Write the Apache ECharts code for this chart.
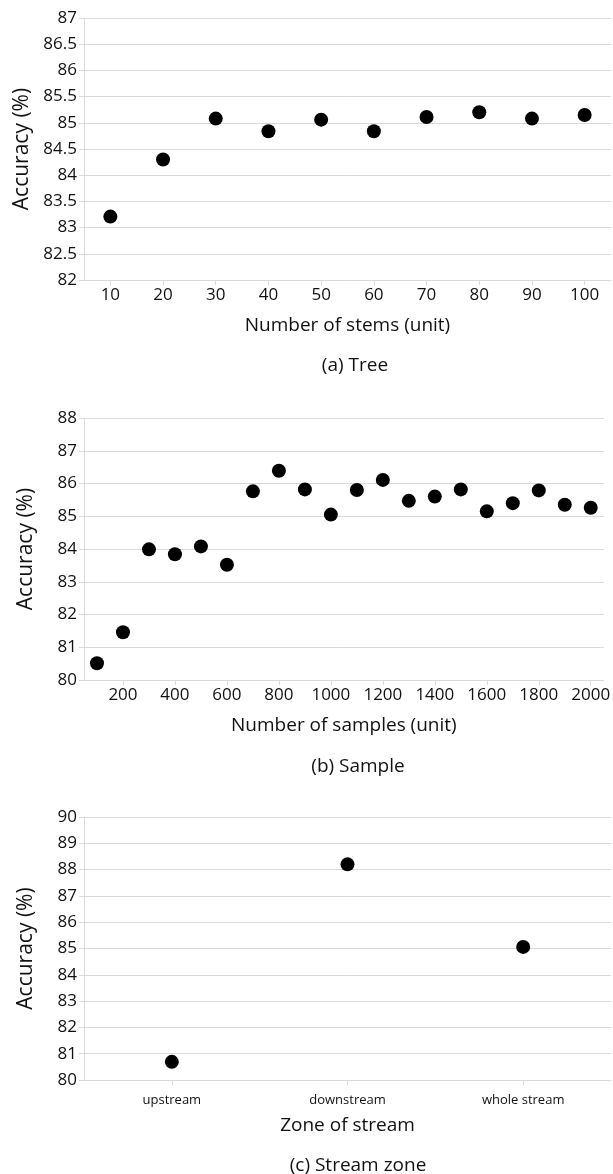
<!DOCTYPE html>
<html>
<head>
<meta charset="utf-8">
<script src="https://cdn.jsdelivr.net/npm/echarts@6/dist/echarts.min.js"></script>
<style>
html,body{margin:0;padding:0;background:#fff;}
#chart{width:613px;height:1174px;}
</style>
</head>
<body>
<div id="chart"></div>
<script>
// Panel (a) Tree
const stemsCategories = ['10','20','30','40','50','60','70','80','90','100'];
const stemsAccuracy = [83.21, 84.30, 85.08, 84.84, 85.06, 84.84, 85.11, 85.20, 85.08, 85.15];
// Panel (b) Sample
const samplesCategories = ['100','200','300','400','500','600','700','800','900','1000','1100','1200','1300','1400','1500','1600','1700','1800','1900','2000'];
const samplesAccuracy = [80.51, 81.46, 83.99, 83.84, 84.08, 83.52, 85.76, 86.39, 85.82, 85.05, 85.80, 86.11, 85.47, 85.60, 85.82, 85.15, 85.40, 85.79, 85.35, 85.26];
// Panel (c) Stream zone
const zoneCategories = ['upstream','downstream','whole stream'];
const zoneAccuracy = [80.69, 88.20, 85.06];

const FONT = 'Open Sans';
const axisColor = '#d9d9d9';
const textColor = '#111';

function xAxisCfg(gi, data, name, opts) {
  return Object.assign({
    type: 'category', gridIndex: gi, data: data,
    name: name, nameLocation: 'middle', nameGap: 36,
    nameTextStyle: {fontFamily: FONT, fontSize: 19, color: textColor},
    axisLine: {show: true, lineStyle: {color: axisColor, width: 1}},
    axisTick: {show: true, alignWithLabel: true, length: 5, lineStyle: {color: axisColor}},
    axisLabel: {fontFamily: FONT, fontSize: 17, color: textColor, margin: 7},
    splitLine: {show: false}
  }, opts || {});
}
function yAxisCfg(gi, min, max, interval) {
  return {
    type: 'value', gridIndex: gi, min: min, max: max, interval: interval,
    name: 'Accuracy (%)', nameLocation: 'middle', nameGap: 47,
    nameTextStyle: {fontFamily: FONT, fontSize: 21, color: textColor},
    axisLine: {show: true, lineStyle: {color: axisColor, width: 1}},
    axisTick: {show: true, length: 5, lineStyle: {color: axisColor}},
    axisLabel: {fontFamily: FONT, fontSize: 17, color: textColor, margin: 7},
    splitLine: {show: true, lineStyle: {color: axisColor, width: 1}}
  };
}
function scatterSeries(gi, data) {
  return {
    type: 'scatter', xAxisIndex: gi, yAxisIndex: gi, data: data,
    symbol: 'circle', symbolSize: 14,
    itemStyle: {color: '#000', opacity: 1}, silent: true
  };
}

const chart = echarts.init(document.getElementById('chart'), null, {renderer: 'canvas'});
chart.setOption({
  animation: false,
  backgroundColor: '#fff',
  title: [
    {text: '(a) Tree', left: 350, top: 351, textAlign: 'center',
     textStyle: {fontFamily: FONT, fontSize: 19, fontWeight: 'normal', color: textColor}},
    {text: '(b) Sample', left: 353, top: 752, textAlign: 'center',
     textStyle: {fontFamily: FONT, fontSize: 19, fontWeight: 'normal', color: textColor}},
    {text: '(c) Stream zone', left: 353, top: 1151, textAlign: 'center',
     textStyle: {fontFamily: FONT, fontSize: 19, fontWeight: 'normal', color: textColor}}
  ],
  grid: [
    {left: 84, top: 18, width: 527, height: 262},
    {left: 84, top: 418, width: 527, height: 262},
    {left: 84, top: 817, width: 527, height: 263}
  ],
  xAxis: [
    xAxisCfg(0, stemsCategories, 'Number of stems (unit)'),
    xAxisCfg(1, samplesCategories, 'Number of samples (unit)', {
      axisLabel: {fontFamily: FONT, fontSize: 17, color: textColor, margin: 7,
                  interval: function (i) { return i % 2 === 1; }},
      axisTick: {show: true, alignWithLabel: true, length: 5, lineStyle: {color: axisColor},
                 interval: function (i) { return i % 2 === 1; }}
    }),
    xAxisCfg(2, zoneCategories, 'Zone of stream', {
      axisLabel: {fontFamily: FONT, fontSize: 13, color: textColor, margin: 14}
    })
  ],
  yAxis: [
    yAxisCfg(0, 82, 87, 0.5),
    yAxisCfg(1, 80, 88, 1),
    yAxisCfg(2, 80, 90, 1)
  ],
  series: [
    scatterSeries(0, stemsAccuracy),
    scatterSeries(1, samplesAccuracy),
    scatterSeries(2, zoneAccuracy)
  ]
});
</script>
</body>
</html>
